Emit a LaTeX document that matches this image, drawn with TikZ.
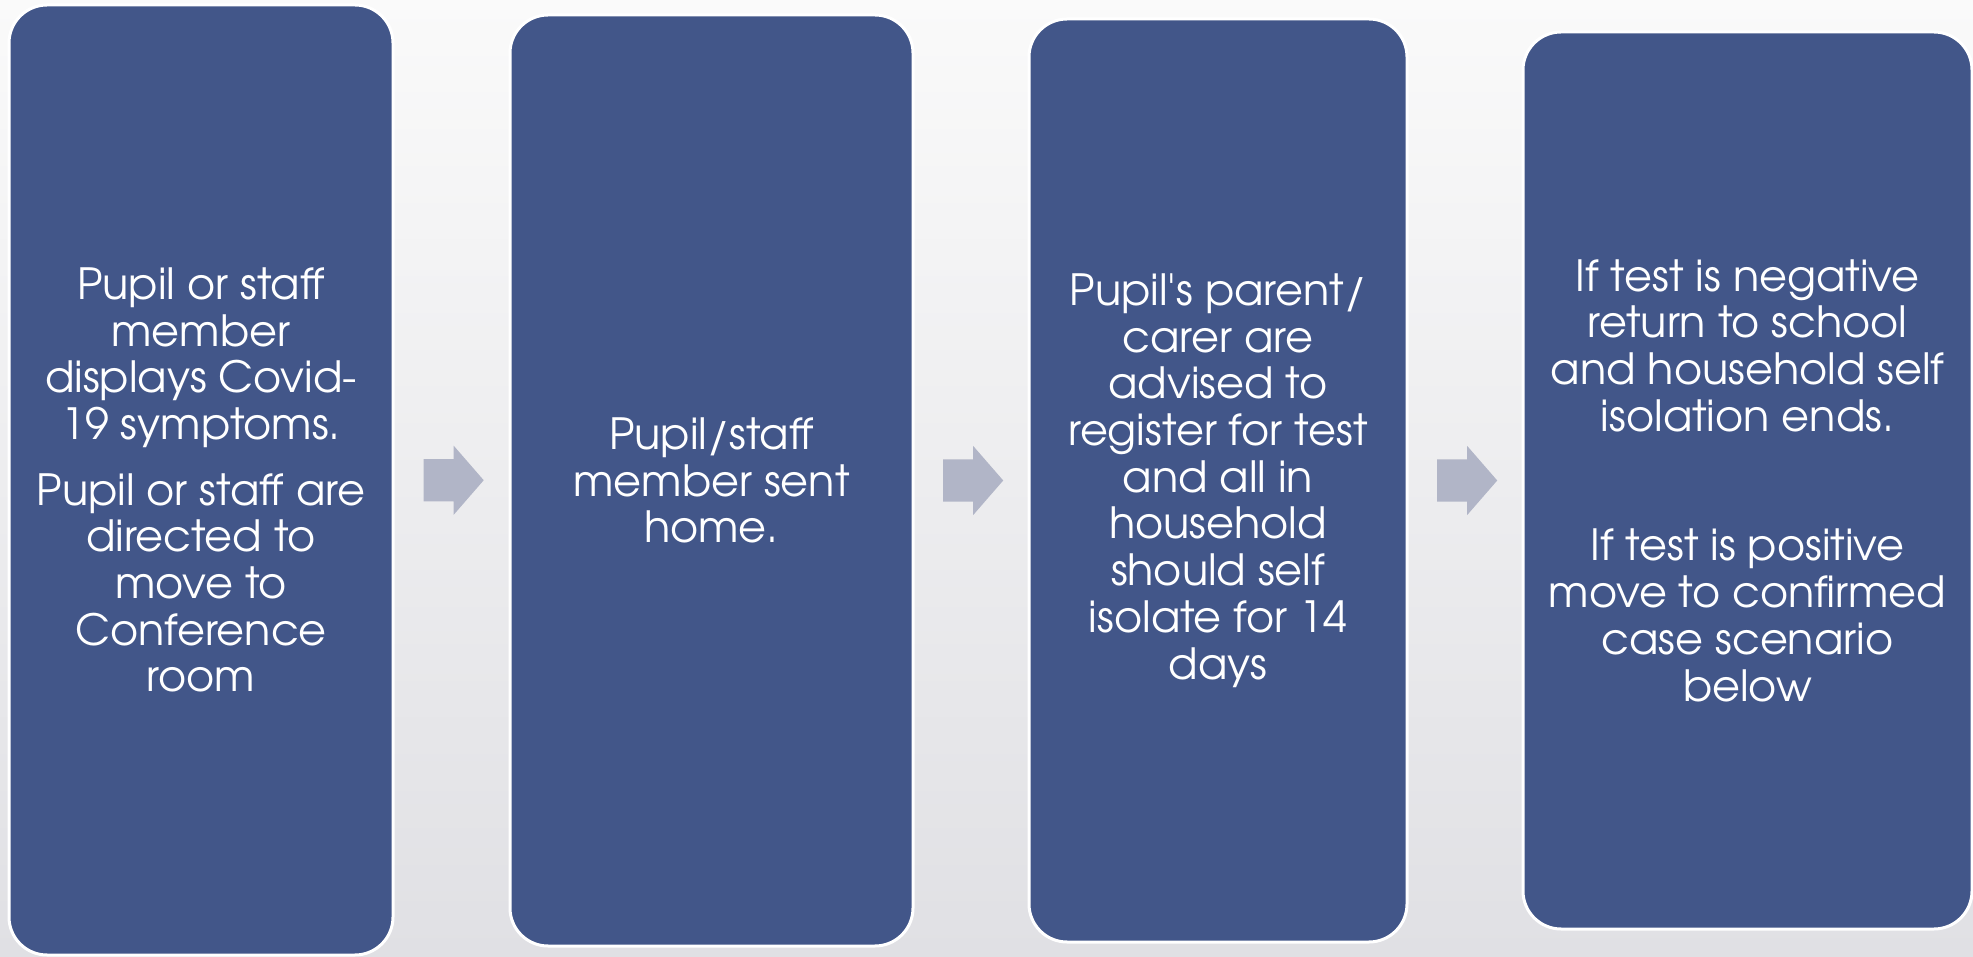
\documentclass[tikz,border=0pt]{standalone}
\usepackage{fontspec}
\setmainfont{TeX Gyre Adventor}
\usetikzlibrary{shapes.arrows,calc}
\definecolor{boxblue}{HTML}{425689}
\definecolor{arrowgrey}{HTML}{B1B5C7}
\definecolor{bgtop}{HTML}{FAFAFA}
\definecolor{bgbottom}{HTML}{E0E0E4}

\begin{document}
\begin{tikzpicture}[x=1pt, y=1pt,
stepbox/.style = {fill=boxblue, draw=white, line width=3pt, rounded corners=38pt, text=white, align=center, inner sep=0pt, font=\fontsize{43}{46.7}\selectfont},
flowarrow/.style = {single arrow, fill=arrowgrey, inner xsep=0pt, inner ysep=21pt, minimum height=60pt, single arrow head extend=13.5pt, single arrow tip angle=98, single arrow head indent=0pt, xshift=-7pt}]
\useasboundingbox (0,0) rectangle (1973,956);
\fill[top color=bgtop, bottom color=bgbottom] (0,0) rectangle (1973,956);

\node[stepbox, minimum width=384pt, minimum height=950pt] (s1) at (201,476)
{Pupil or staff\\member\\displays Covid-\\19 symptoms.\\[19pt]Pupil or staff are\\directed to\\move to\\Conference\\room};
\node[stepbox, minimum width=403pt, minimum height=931pt] (s2) at (711.5,475.5)
{Pupil/staff\\member sent\\home.};
\node[stepbox, minimum width=378pt, minimum height=923pt] (s3) at (1218,475.5)
{Pupil\textquotesingle s parent/\\carer are\\advised to\\register for test\\and all in\\household\\should self\\isolate for 14\\days};
\node[stepbox, minimum width=449pt, minimum height=897pt] (s4) at (1747.5,475.5)
{If test is negative\\return to school\\and household self\\isolation ends.\\[83pt]If test is positive\\move to confirmed\\case scenario\\below};

% arrows between the steps
\node[flowarrow] (a1) at ($(s1.east)!0.5!(s2.west)$) {};
\node[flowarrow] (a2) at ($(s2.east)!0.5!(s3.west)$) {};
\node[flowarrow] (a3) at ($(s3.east)!0.5!(s4.west)$) {};
\end{tikzpicture}
\end{document}
